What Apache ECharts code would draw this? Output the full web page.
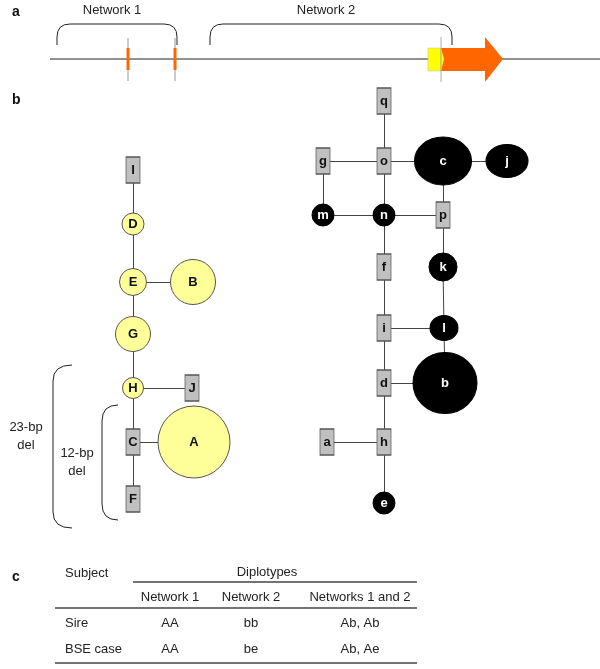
<!DOCTYPE html>
<html>
<head>
<meta charset="utf-8">
<script src="https://cdn.jsdelivr.net/npm/echarts@6/dist/echarts.min.js"></script>
<style>
  html, body { margin: 0; padding: 0; background: #fff; }
  #chart { width: 600px; height: 669px; }
</style>
</head>
<body>
<div id="chart"></div>
<script>
// ---- panel a: gene map (positions along the map line) ----
const mapLine = [50, 600];
const mapY = 59;
const spanNames = ['Network 1', 'Network 2'];
const spanFrom = [57, 210];
const spanTo = [177, 452];
const delMarks = [128, 175];
const exonBox = [428, 441];
const geneArrow = [441, 503];

// ---- panel b: network 1 ----
const net1Names = ['I', 'D', 'E', 'B', 'G', 'H', 'J', 'C', 'A', 'F'];
const net1X = [133, 133, 133, 193, 133, 133, 192, 133, 194, 133];
const net1Y = [170, 224, 282, 282, 334, 388, 388, 442, 442, 499];
const net1Type = ['sq', 'hap', 'hap', 'hap', 'hap', 'hap', 'sq', 'sq', 'hap', 'sq'];
const net1Diam = [0, 22, 27, 45, 35, 21, 0, 0, 72, 0];
const net1Links = [['I', 'D'], ['D', 'E'], ['E', 'B'], ['E', 'G'], ['G', 'H'],
  ['H', 'J'], ['H', 'C'], ['C', 'A'], ['C', 'F']];

// ---- panel b: network 2 ----
const net2Names = ['q', 'g', 'o', 'c', 'j', 'm', 'n', 'p', 'f', 'k', 'i', 'l', 'd', 'b', 'a', 'h', 'e'];
const net2X = [384, 323, 384, 443, 507, 323, 384, 443, 384, 443, 384, 444, 384, 445, 327, 384, 384];
const net2Y = [101, 161, 161, 161, 161, 215, 215, 215, 267, 267, 328, 328, 383, 383, 442, 442, 503];
const net2Type = ['sq', 'sq', 'sq', 'hap', 'hap', 'hap', 'hap', 'sq', 'sq', 'hap', 'sq', 'hap', 'sq', 'hap', 'sq', 'sq', 'hap'];
const net2W = [0, 0, 0, 57, 42, 22, 22, 0, 0, 28, 0, 28, 0, 64, 0, 0, 22];
const net2H = [0, 0, 0, 48, 33, 22, 22, 0, 0, 28, 0, 25, 0, 61, 0, 0, 22];
const net2Links = [['q', 'o'], ['g', 'o'], ['o', 'c'], ['c', 'j'], ['g', 'm'], ['o', 'n'],
  ['m', 'n'], ['n', 'p'], ['c', 'p'], ['n', 'f'], ['p', 'k'], ['f', 'i'], ['k', 'l'],
  ['i', 'l'], ['i', 'd'], ['l', 'b'], ['d', 'b'], ['d', 'h'], ['a', 'h'], ['h', 'e']];

// deletion brackets on network 1
const delLabels = ['23-bp\ndel', '12-bp\ndel'];
const delTop = [365, 405];
const delBottom = [528, 520];

// ---- panel c: table ----
const tableHead = ['Subject', 'Diplotypes'];
const tableCols = ['', 'Network 1', 'Network 2', 'Networks 1 and 2'];
const tableRows = [
  ['Sire', 'AA', 'bb', 'Ab, Ab'],
  ['BSE case', 'AA', 'be', 'Ab, Ae']
];

const FONT = '"Liberation Sans", Arial, sans-serif';
const SQ = [14, 26];

const chart = echarts.init(document.getElementById('chart'));

function nodes(names, xs, ys, types, ws, hs, dark) {
  return names.map((n, i) => {
    const sq = types[i] === 'sq';
    return {
      name: n,
      value: [xs[i], ys[i]],
      symbol: sq ? 'rect' : 'circle',
      symbolSize: sq ? SQ : [ws[i], hs[i]],
      itemStyle: sq
        ? { color: '#c0c0c0', borderColor: '#555', borderWidth: 1 }
        : { color: dark ? '#000' : '#ffff99', borderColor: dark ? '#000' : '#555', borderWidth: 1 },
      label: { color: (!sq && dark) ? '#fff' : '#111' }
    };
  });
}

function graphSeries(data, links) {
  return {
    type: 'graph',
    coordinateSystem: 'cartesian2d',
    layout: 'none',
    silent: true,
    z: 3,
    label: { show: true, position: 'inside', fontFamily: FONT, fontWeight: 'bold', fontSize: 13 },
    lineStyle: { color: '#444', width: 1, opacity: 1, curveness: 0 },
    data: data,
    links: links.map(l => ({ source: l[0], target: l[1] }))
  };
}

function txt(x, y, s, opt) {
  return {
    type: 'text',
    style: Object.assign({
      x: x, y: y, text: s, fill: '#222', font: '13px ' + FONT,
      align: 'center', verticalAlign: 'middle'
    }, opt || {})
  };
}

function renderMap(params, api) {
  const c = p => api.coord(p);
  const kids = [];
  const l0 = c([mapLine[0], mapY]), l1 = c([mapLine[1], mapY]);
  kids.push({ type: 'line', shape: { x1: l0[0], y1: l0[1], x2: l1[0], y2: l1[1] }, style: { stroke: '#222', lineWidth: 1 } });
  spanNames.forEach((n, i) => {
    const a = c([spanFrom[i], 45]), b = c([spanTo[i], 45]), t = c([0, 24]);
    const r = 13;
    kids.push({
      type: 'path',
      shape: { pathData: `M${a[0]} ${a[1]} L${a[0]} ${t[1] + r} Q${a[0]} ${t[1]} ${a[0] + r} ${t[1]} L${b[0] - r} ${t[1]} Q${b[0]} ${t[1]} ${b[0]} ${t[1] + r} L${b[0]} ${b[1]}` },
      style: { fill: 'none', stroke: '#222', lineWidth: 1 }
    });
    const m = c([(spanFrom[i] + spanTo[i]) / 2 - 5, 10]);
    kids.push(txt(m[0], m[1], n));
  });
  delMarks.forEach(x => {
    const t = c([x, 38]), b = c([x, 81]);
    kids.push({ type: 'line', shape: { x1: t[0], y1: t[1], x2: b[0], y2: b[1] }, style: { stroke: '#999', lineWidth: 1 } });
    const r0 = c([x - 1.5, 48]);
    kids.push({ type: 'rect', shape: { x: r0[0], y: r0[1], width: 3, height: 22 }, style: { fill: '#ff6600' } });
  });
  // gene arrow
  const x0 = geneArrow[0], x1 = geneArrow[1], hx = x1 - 18;
  const pts = [[x0, 48], [hx, 48], [hx, 37], [x1, 59], [hx, 82], [hx, 71], [x0, 71]].map(c);
  kids.push({ type: 'polygon', shape: { points: pts }, style: { fill: '#ff6600' } });
  const e0 = c([exonBox[0], 48]), e1 = c([exonBox[1], 71]);
  kids.push({ type: 'rect', shape: { x: e0[0], y: e0[1], width: e1[0] - e0[0], height: e1[1] - e0[1] }, style: { fill: '#ffff00', stroke: '#bbb', lineWidth: 0.5 } });
  kids.push({ type: 'polygon', shape: { points: [[exonBox[1], 48], [exonBox[1] + 3, 59], [exonBox[1], 71]].map(c) }, style: { fill: '#ffff00' } });
  const v0 = c([exonBox[1], 37]), v1 = c([exonBox[1], 82]);
  kids.push({ type: 'line', shape: { x1: v0[0], y1: v0[1], x2: v1[0], y2: v1[1] }, style: { stroke: '#999', lineWidth: 0.8 } });
  // panel letters
  kids.push(txt(12, 12, 'a', { font: 'bold 14px ' + FONT, align: 'left', fill: '#111' }));
  kids.push(txt(12, 100, 'b', { font: 'bold 14px ' + FONT, align: 'left', fill: '#111' }));
  kids.push(txt(12, 577, 'c', { font: 'bold 14px ' + FONT, align: 'left', fill: '#111' }));
  return { type: 'group', children: kids };
}

function renderBrackets(params, api) {
  const c = p => api.coord(p);
  const bx = [53, 102], ex = [72, 118], lx = [26, 77], ly = [436, 462], kids = [];
  delLabels.forEach((lab, i) => {
    const t = c([bx[i], delTop[i]]), b = c([bx[i], delBottom[i]]), e = c([ex[i], 0]);
    const r = 16;
    kids.push({
      type: 'path',
      shape: { pathData: `M${e[0]} ${t[1]} Q${t[0]} ${t[1]} ${t[0]} ${t[1] + r} L${b[0]} ${b[1] - r} Q${b[0]} ${b[1]} ${e[0]} ${b[1]}` },
      style: { fill: 'none', stroke: '#222', lineWidth: 1 }
    });
    const m = c([lx[i], ly[i]]);
    kids.push(txt(m[0], m[1], lab, { lineHeight: 18, fill: '#222' }));
  });
  return { type: 'group', children: kids };
}

function renderTable(params, api) {
  const c = p => api.coord(p);
  const colX = [65, 170, 251, 360];
  const rowY = [597, 623, 649];
  const kids = [];
  let p = c([65, 573]);
  kids.push(txt(p[0], p[1], tableHead[0], { align: 'left' }));
  p = c([267, 572]);
  kids.push(txt(p[0], p[1], tableHead[1]));
  tableCols.forEach((s, j) => { if (s) { const q = c([colX[j], rowY[0]]); kids.push(txt(q[0], q[1], s)); } });
  tableRows.forEach((row, i) => {
    row.forEach((s, j) => {
      const q = c([colX[j], rowY[i + 1]]);
      kids.push(txt(q[0], q[1], s, j === 0 ? { align: 'left' } : {}));
    });
  });
  [[133, 582], [55, 608], [55, 663]].forEach(r => {
    const a = c([r[0], r[1]]), b = c([417, r[1]]);
    kids.push({ type: 'line', shape: { x1: a[0], y1: a[1], x2: b[0], y2: b[1] }, style: { stroke: '#444', lineWidth: 1.5 } });
  });
  return { type: 'group', children: kids };
}

const option = {
  backgroundColor: '#fff',
  animation: false,
  grid: { left: 0, right: 0, top: 0, bottom: 0 },
  xAxis: { type: 'value', min: 0, max: 600, show: false },
  yAxis: { type: 'value', min: 0, max: 669, inverse: true, show: false },
  series: [
    graphSeries(nodes(net1Names, net1X, net1Y, net1Type, net1Diam, net1Diam, false), net1Links),
    graphSeries(nodes(net2Names, net2X, net2Y, net2Type, net2W, net2H, true), net2Links),
    { type: 'custom', silent: true, clip: false, data: [[0, 0]], renderItem: renderMap },
    { type: 'custom', silent: true, clip: false, data: [[0, 0]], renderItem: renderBrackets },
    { type: 'custom', silent: true, clip: false, data: [[0, 0]], renderItem: renderTable }
  ]
};

chart.setOption(option);
</script>
</body>
</html>
